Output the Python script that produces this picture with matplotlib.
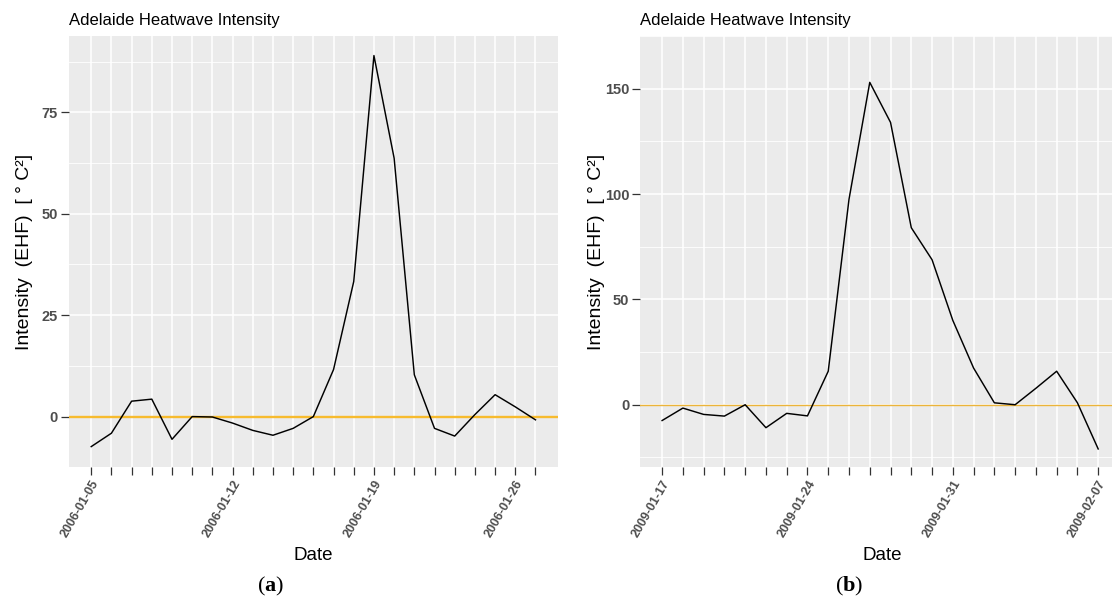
import matplotlib
matplotlib.use("Agg")
import matplotlib.pyplot as plt
import matplotlib.dates as mdates
import pandas as pd

plt.rcParams['font.family'] = ['Liberation Sans', 'DejaVu Sans']
plt.rcParams['mathtext.fontset'] = 'custom'
plt.rcParams['mathtext.rm'] = 'Liberation Serif'
plt.rcParams['mathtext.bf'] = 'Liberation Serif:bold'

# daily EHF values
dates_2006 = ["2006-01-05", "2006-01-06", "2006-01-07", "2006-01-08", "2006-01-09",
              "2006-01-10", "2006-01-11", "2006-01-12", "2006-01-13", "2006-01-14",
              "2006-01-15", "2006-01-16", "2006-01-17", "2006-01-18", "2006-01-19",
              "2006-01-20", "2006-01-21", "2006-01-22", "2006-01-23", "2006-01-24",
              "2006-01-25", "2006-01-26", "2006-01-27"]
ehf_2006 = [-7.4, -4.1, 3.8, 4.3, -5.6, 0.0, -0.1, -1.6, -3.4, -4.6, -2.9, 0.0,
            11.6, 33.3, 89.0, 63.7, 10.3, -2.9, -4.8, 0.5, 5.4, 2.4, -0.8]
labels_2006 = ["2006-01-05", "2006-01-12", "2006-01-19", "2006-01-26"]
yticks_2006 = [0, 25, 50, 75]

dates_2009 = ["2009-01-17", "2009-01-18", "2009-01-19", "2009-01-20", "2009-01-21",
              "2009-01-22", "2009-01-23", "2009-01-24", "2009-01-25", "2009-01-26",
              "2009-01-27", "2009-01-28", "2009-01-29", "2009-01-30", "2009-01-31",
              "2009-02-01", "2009-02-02", "2009-02-03", "2009-02-04", "2009-02-05",
              "2009-02-06", "2009-02-07"]
ehf_2009 = [-7.5, -1.6, -4.6, -5.4, 0.0, -10.9, -4.1, -5.3, 15.9, 97.5, 153.0,
            134.0, 84.0, 68.8, 40.0, 17.4, 0.9, 0.0, 7.8, 15.9, 0.9, -21.0]
labels_2009 = ["2009-01-17", "2009-01-24", "2009-01-31", "2009-02-07"]
yticks_2009 = [0, 50, 100, 150]

W, H = 1112, 602
fig = plt.figure(figsize=(W / 100, H / 100), dpi=100)


def panel(rect, dates, vals, labelled, yticks, zero_color, zero_lw):
    ax = fig.add_axes(rect)
    x = mdates.date2num(pd.to_datetime(dates))
    ax.set_facecolor('#EBEBEB')
    ax.set_axisbelow(True)
    span = x[-1] - x[0]
    ax.set_xlim(x[0] - 0.05 * span, x[-1] + 0.05 * span)
    lo, hi = min(vals), max(vals)
    ax.set_ylim(lo - 0.05 * (hi - lo), hi + 0.05 * (hi - lo))

    ax.set_xticks(x)
    ax.set_xticklabels([d if d in labelled else '' for d in dates],
                       rotation=60, ha='right', va='top', rotation_mode='anchor',
                       fontsize=9)
    ax.set_yticks(yticks)
    step = yticks[1] - yticks[0]
    ax.set_yticks([t - step / 2 for t in yticks] + [yticks[-1] + step / 2], minor=True)
    ax.tick_params(which='minor', length=0)
    ax.tick_params(which='major', length=6, width=0.9, color='#333333',
                   labelcolor='#4D4D4D', pad=2)
    ax.tick_params(axis='y', labelsize=10.5)
    for lbl in ax.get_xticklabels() + ax.get_yticklabels():
        lbl.set_fontweight('bold')

    ax.grid(which='major', color='white', lw=1.1)
    ax.grid(which='minor', axis='y', color='white', lw=0.6)
    for s in ax.spines.values():
        s.set_visible(False)

    ax.axhline(0, color=zero_color, lw=zero_lw, zorder=2)
    ax.plot(x, vals, color='black', lw=1.05, zorder=3)
    return ax


top, bot = 36, 467.3
ax1 = panel([69 / W, 1 - bot / H, (557.7 - 69) / W, (bot - top) / H],
            dates_2006, ehf_2006, labels_2006, yticks_2006, '#F7BB2E', 1.7)
ax2 = panel([640.3 / W, 1 - bot / H, (1120 - 640.3) / W, (bot - top) / H],
            dates_2009, ehf_2009, labels_2009, yticks_2009, '#EBB43A', 1.0)

ylab = 'Intensity  (EHF)  [ ° C²]'
for left, xcen, cap, ycap_x in [(69, 313, '(' + r'$\mathbf{a}$' + ')', 271),
                                (640.3, 882, '(' + r'$\mathbf{b}$' + ')', 849)]:
    fig.text(left / W, 1 - 25 / H, 'Adelaide Heatwave Intensity', ha='left',
             va='baseline', fontsize=12, color='black')
    fig.text(xcen / W, 1 - 555 / H, 'Date', ha='center', va='center', fontsize=13.5)
    fig.text((left - 44) / W, 1 - (top + bot) / 2 / H, ylab, rotation=90,
             ha='center', va='center', fontsize=14)
    fig.text(ycap_x / W, 1 - 586 / H, cap, ha='center', va='center', fontsize=16,
             family='Liberation Serif')

fig.savefig('out.png', dpi=100)
